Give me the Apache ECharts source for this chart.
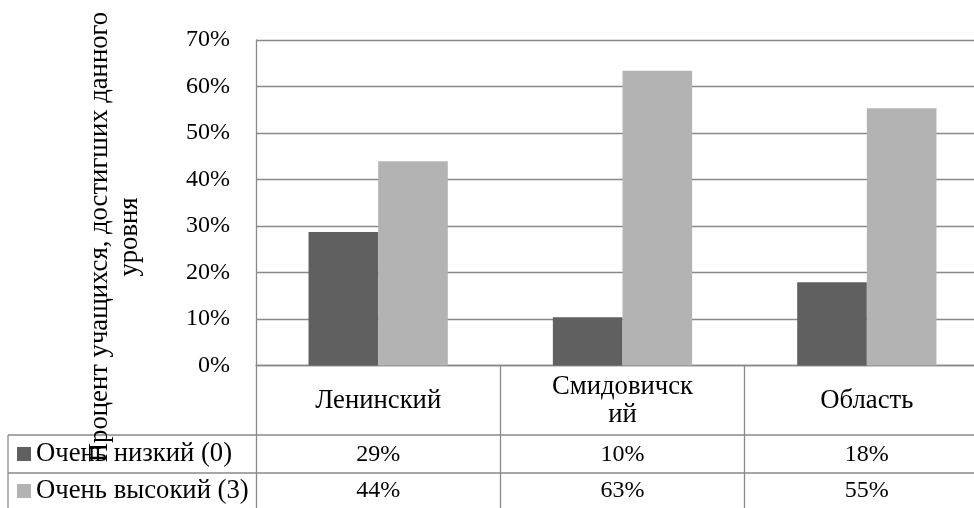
<!DOCTYPE html>
<html><head><meta charset="utf-8">
<script src="https://cdn.jsdelivr.net/npm/echarts@6/dist/echarts.min.js"></script>
<style>html,body{margin:0;padding:0;background:#fff}#c{width:974px;height:508px}</style>
</head><body><div id="c"></div>
<script>
const categories = ['Ленинский', 'Смидовичский', 'Область'];
const categoryLabels = ['Ленинский', 'Смидовичск\nий', 'Область'];
const seriesNames = ['Очень низкий (0)', 'Очень высокий (3)'];
const veryLow = [28.7, 10.4, 17.9];
const veryHigh = [43.9, 63.4, 55.3];
const yTicks = [0, 10, 20, 30, 40, 50, 60, 70];
const yTitle = 'Процент учащихся, достигших данного\nуровня';

const FONT = 'Liberation Serif';
const FS = 24;      // digits
const FT = 26.7;    // cyrillic text
const LINE = '#898989';
const chart = echarts.init(document.getElementById('c'));
const pct = v => Math.round(v) + '%';
const tableAxis = (vals, margin) => ({
  type: 'category', data: categories, position: 'bottom', gridIndex: 0,
  axisLine: {show: false}, axisTick: {show: false},
  axisLabel: {margin: margin, verticalAlign: 'middle', fontFamily: FONT, fontSize: FS, color: '#000',
    formatter: (v, i) => pct(vals[i])}
});
const legendRow = (name, top) => ({
  orient: 'horizontal', left: 17, top: top, padding: 0, itemWidth: 14, itemHeight: 14,
  icon: 'rect', data: [name],
  textStyle: {fontFamily: FONT, fontSize: FT, color: '#000', lineHeight: 30}
});
chart.setOption({
  animation: false,
  grid: {left: 256, top: 40, right: -15, height: 325.5, outerBoundsMode: 'none', containLabel: false},
  legend: [legendRow(seriesNames[0], 439), legendRow(seriesNames[1], 476)],
  xAxis: [{
    type: 'category', data: categories,
    axisLine: {lineStyle: {color: LINE, width: 1.3}},
    axisTick: {show: true, length: 143, lineStyle: {color: LINE, width: 1.3}},
    axisLabel: {margin: 35, verticalAlign: 'middle', fontFamily: FONT, fontSize: FT, color: '#000',
      lineHeight: 28, formatter: (v, i) => categoryLabels[i]}
  }, tableAxis(veryLow, 89), tableAxis(veryHigh, 125)],
  yAxis: {
    type: 'value', min: yTicks[0], max: yTicks[yTicks.length-1], interval: 10,
    axisLine: {show: true, lineStyle: {color: LINE, width: 1.3}},
    axisTick: {show: false},
    splitLine: {lineStyle: {color: LINE, width: 1.3}},
    axisLabel: {formatter: '{value}%', margin: 26, fontFamily: FONT, fontSize: FS, color: '#000'}
  },
  series: [
    {name: seriesNames[0], type: 'bar', data: veryLow, barGap: '0%', barCategoryGap: '43%',
      itemStyle: {color: '#606060'}},
    {name: seriesNames[1], type: 'bar', data: veryHigh, barGap: '0%', barCategoryGap: '43%',
      itemStyle: {color: '#b3b3b3'}}
  ],
  graphic: [
    {type: 'line', shape: {x1: 8, y1: 435, x2: 974, y2: 435}, style: {stroke: LINE, lineWidth: 1.3}},
    {type: 'line', shape: {x1: 8, y1: 473, x2: 974, y2: 473}, style: {stroke: LINE, lineWidth: 1.3}},
    {type: 'line', shape: {x1: 8, y1: 435, x2: 8, y2: 508}, style: {stroke: LINE, lineWidth: 1.3}},
    {type: 'text', x: 115, y: 237, rotation: Math.PI / 2, z: 10,
      style: {text: yTitle, font: FT + 'px "' + FONT + '"', fill: '#000', textAlign: 'center',
        textVerticalAlign: 'middle', lineHeight: 30}}
  ]
});
</script></body></html>
